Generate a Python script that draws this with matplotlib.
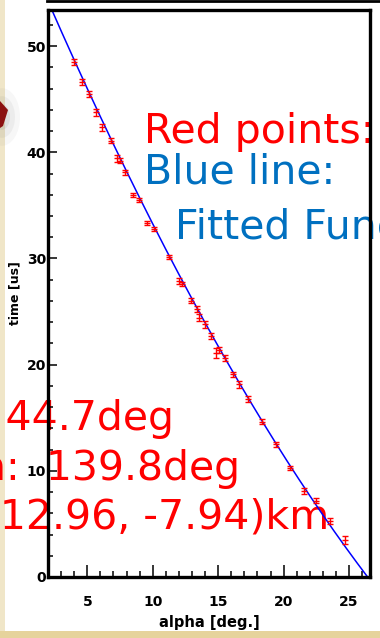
import numpy as np
import matplotlib
matplotlib.use("Agg")
import matplotlib.pyplot as plt
from matplotlib.patches import Rectangle, Polygon, Ellipse
from matplotlib.lines import Line2D
from matplotlib.ticker import MultipleLocator

# measured points: alpha [deg.] vs arrival time [us]
alpha = [4.01, 4.60, 5.10, 5.69, 6.15, 6.81, 7.27, 7.52, 7.90, 8.49,
         8.99, 9.60, 10.06, 11.21, 12.02, 12.23, 12.92, 13.37, 13.57, 14.01,
         14.44, 14.85, 15.10, 15.53, 16.17, 16.63, 17.27, 18.34, 19.41, 20.50,
         21.56, 22.48, 23.55, 24.69]
time_us = [48.52, 46.64, 45.48, 43.76, 42.34, 41.08, 39.43, 39.20, 38.11, 35.97,
           35.50, 33.31, 32.77, 30.16, 27.87, 27.56, 26.02, 25.24, 24.42, 23.79,
           22.72, 21.12, 21.37, 20.62, 19.09, 18.14, 16.76, 14.64, 12.50, 10.24,
           8.10, 7.18, 5.27, 3.48]
time_err = [0.30, 0.30, 0.30, 0.30, 0.35, 0.25, 0.35, 0.25, 0.25, 0.20,
            0.20, 0.20, 0.20, 0.20, 0.25, 0.20, 0.25, 0.30, 0.35, 0.30,
            0.30, 0.45, 0.30, 0.30, 0.25, 0.35, 0.25, 0.25, 0.25, 0.20,
            0.25, 0.25, 0.30, 0.35]

# fitted function t = c0 + c1*a + c2*a^2
fit_coeffs = [59.96, -2.9135, 0.02437]

x_ticks = [5, 10, 15, 20, 25]
y_ticks = [0, 10, 20, 30, 40, 50]

W, H = 380, 638


def fx(x):
    return x / W


def fy(y):
    return 1 - y / H


fig = plt.figure(figsize=(W / 100, H / 100), dpi=100)
fig.patch.set_facecolor('#f0e6c8')

# slide background: white panel, golden strip, little arrow with shadow
fig.patches.append(Rectangle((fx(5), fy(631)), fx(375), 631 / H, transform=fig.transFigure,
                             facecolor='white', edgecolor='none', zorder=-5))
fig.patches.append(Rectangle((0, 0), 1, 7 / H, transform=fig.transFigure,
                             facecolor='#e6d39c', edgecolor='none', zorder=-4))
for w, a in [(36, 0.05), (26, 0.07), (16, 0.1)]:
    fig.patches.append(Ellipse((fx(2), fy(117)), fx(w), w * 1.6 / H, transform=fig.transFigure,
                               facecolor='#666666', edgecolor='none', alpha=a, zorder=-4))
fig.patches.append(Polygon([(fx(0), fy(101)), (fx(8), fy(110)), (fx(3), fy(126)), (fx(0), fy(128))],
                           closed=True, transform=fig.transFigure,
                           facecolor='#8b1010', edgecolor='none', zorder=-3))
fig.lines.append(Line2D([fx(47), fx(380)], [fy(1.3), fy(1.3)], transform=fig.transFigure,
                        color='black', lw=2.0, zorder=-3))

ax = fig.add_axes([fx(48), fy(577), 322 / W, 567 / H])
ax.patch.set_visible(False)

a_line = np.linspace(2.0, 26.6, 300)
ax.plot(a_line, np.polyval(fit_coeffs[::-1], a_line), color='#0000ff', lw=1.1, zorder=2)
ax.errorbar(alpha, time_us, yerr=time_err, fmt='_', color='#ff0000', ms=5, mew=1,
            ecolor='#ff0000', elinewidth=1, capsize=2.2, capthick=1, zorder=3)

ax.set_xlim(2.0, 26.6)
ax.set_ylim(0, 53.4)
ax.xaxis.set_major_locator(MultipleLocator(5))
ax.xaxis.set_minor_locator(MultipleLocator(1))
ax.yaxis.set_major_locator(MultipleLocator(10))
ax.yaxis.set_minor_locator(MultipleLocator(2))
ax.set_xticks(x_ticks)
ax.set_yticks(y_ticks)
ax.set_xticklabels([str(v) for v in x_ticks])
ax.set_yticklabels([str(v) for v in y_ticks])

for s in ax.spines.values():
    s.set_linewidth(2.4)
ax.tick_params(which='both', direction='in', top=False, right=False, width=1.1,
               labelsize=10)
ax.tick_params(axis='x', which='major', length=9, pad=13.3)
ax.tick_params(axis='x', which='minor', length=4.6)
ax.tick_params(axis='y', which='major', length=6.5, pad=1.5)
ax.tick_params(axis='y', which='minor', length=3.5)
for lab in ax.get_xticklabels() + ax.get_yticklabels():
    lab.set_fontweight('bold')

ax.set_xlabel('alpha [deg.]', fontsize=10.5, fontweight='bold')
ax.set_ylabel('time [us]', fontsize=9, fontweight='bold')
ax.xaxis.set_label_coords(0.5, -0.0794)
ax.xaxis.label.set_va('center')
ax.yaxis.set_label_coords(-0.1025, 0.5)
ax.yaxis.label.set_va('center')
ax.yaxis.label.set_ha('center')

# slide text boxes (partly cut off by the screenshot edge)
big = dict(fontsize=29.5, family='DejaVu Sans', va='baseline', zorder=-1)
fig.text(fx(144), fy(143.3), 'Red points:', color='#ff0000', ha='left', **big)
fig.text(fx(144), fy(183.3), 'Blue line:', color='#0070c0', ha='left', **big)
fig.text(fx(175), fy(238.3), 'Fitted Function', color='#0070c0', ha='left', **big)
fig.text(fx(174), fy(430), 'Zenith: 44.7deg', color='#ff0000', ha='right', **big)
fig.text(fx(240), fy(480), 'Azimuth:  139.8deg', color='#ff0000', ha='right', **big)
fig.text(fx(329), fy(528), 'Core: (12.96, -7.94)km', color='#ff0000', ha='right', **big)

fig.savefig('out.png', dpi=100)
